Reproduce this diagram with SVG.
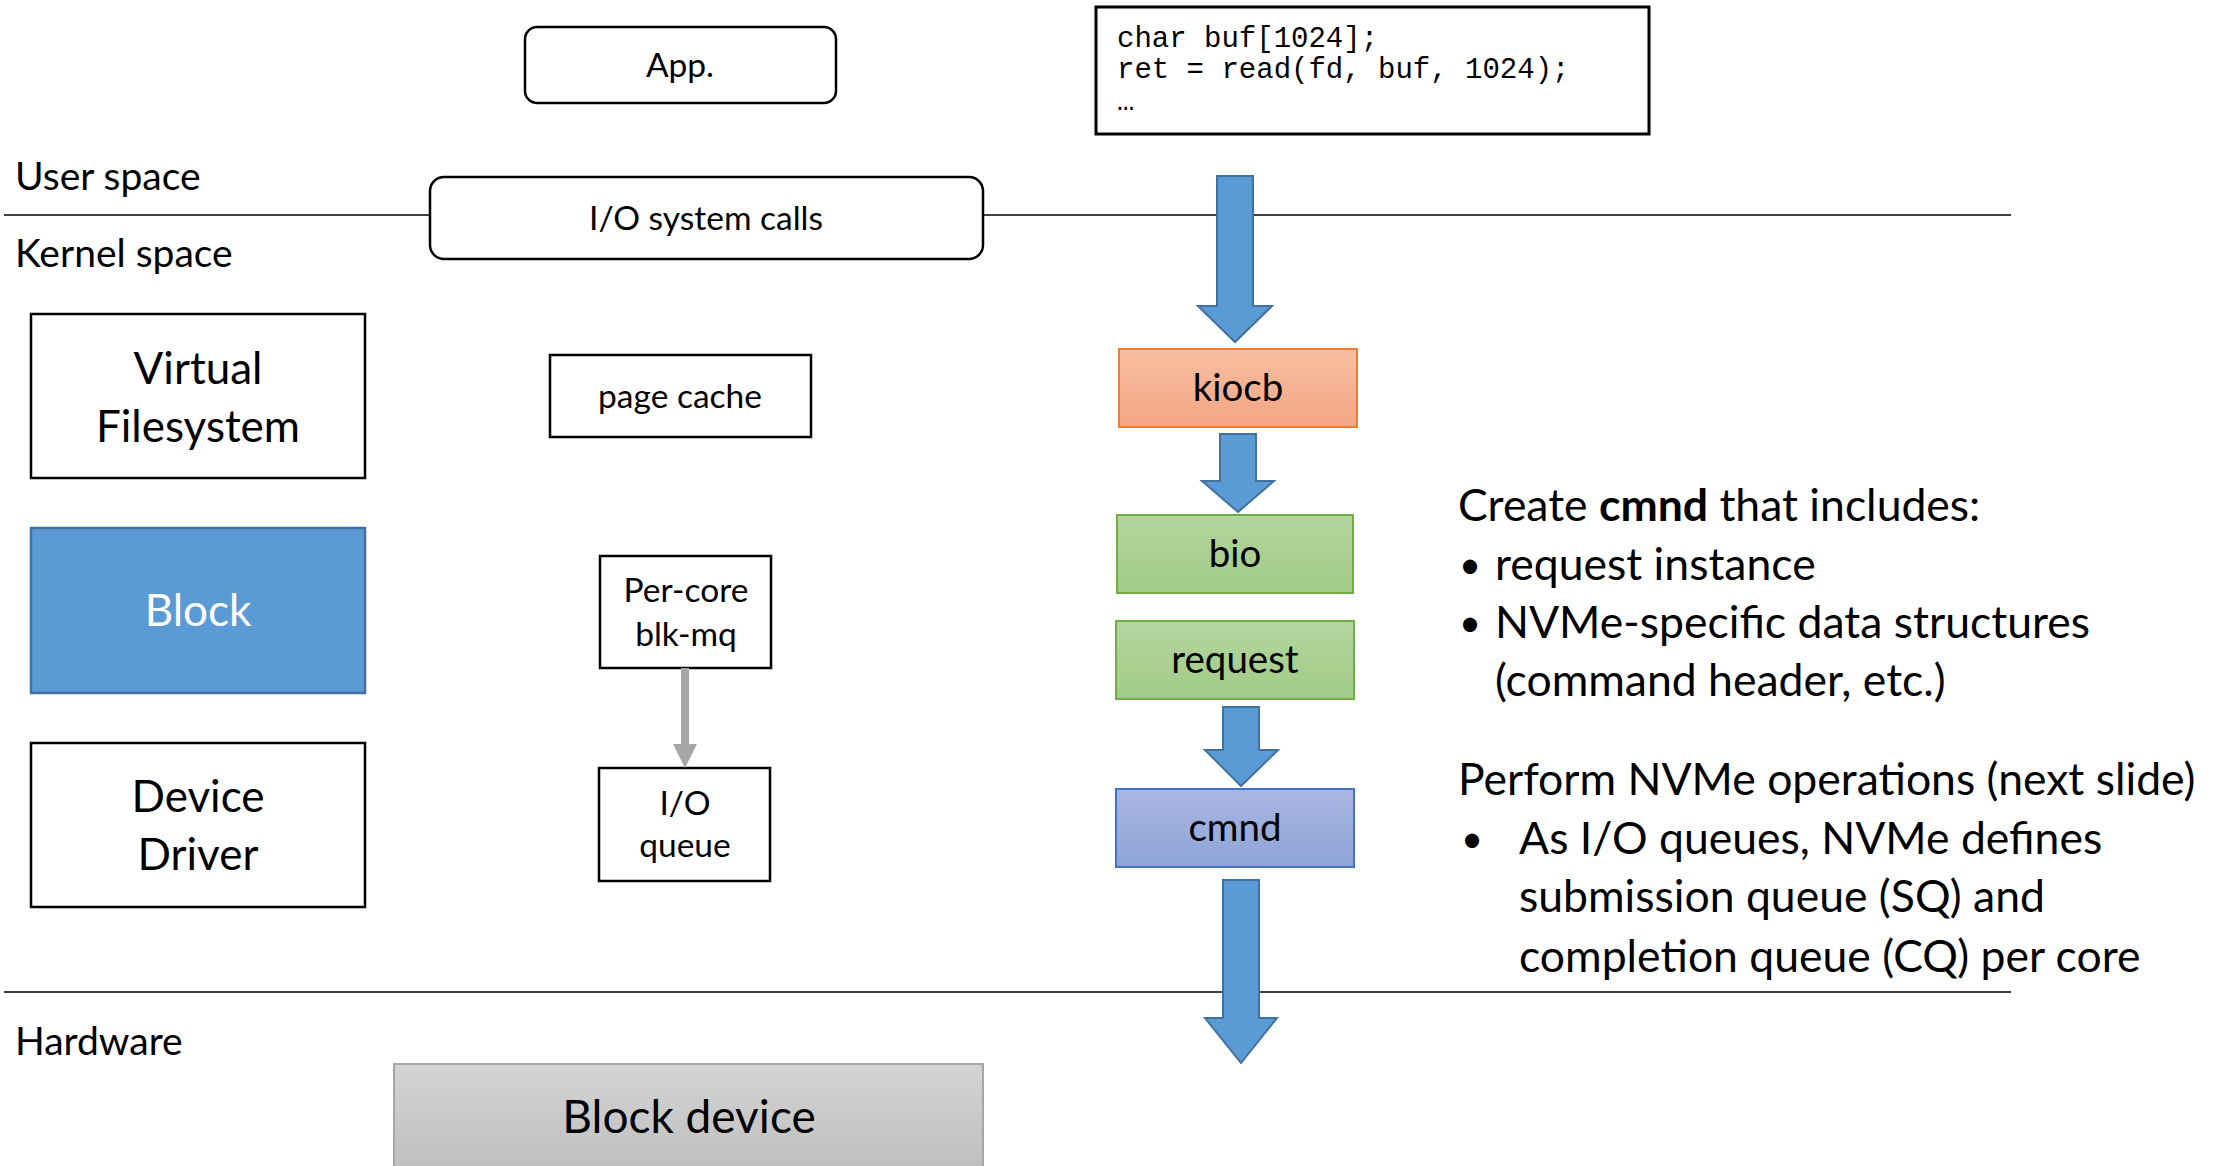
<svg xmlns="http://www.w3.org/2000/svg" width="2218" height="1166" viewBox="0 0 2218 1166">
<defs>
<linearGradient id="gOrange" x1="0" y1="0" x2="0" y2="1"><stop offset="0" stop-color="#F7BEA2"/><stop offset="1" stop-color="#F4A583"/></linearGradient>
<linearGradient id="gGreen" x1="0" y1="0" x2="0" y2="1"><stop offset="0" stop-color="#B4D5A0"/><stop offset="1" stop-color="#A1CB86"/></linearGradient>
<linearGradient id="gBlue" x1="0" y1="0" x2="0" y2="1"><stop offset="0" stop-color="#A9B6E0"/><stop offset="1" stop-color="#8EA4D8"/></linearGradient>
<linearGradient id="gGray" x1="0" y1="0" x2="0" y2="1"><stop offset="0" stop-color="#D3D3D3"/><stop offset="1" stop-color="#BEBEBE"/></linearGradient>
</defs>
<style>
text{font-family:Lato,"Liberation Sans",sans-serif;fill:#000}
.c{text-anchor:middle}
.box{fill:#fff;stroke:#000;stroke-width:2.5}
.lbl{font-size:39px}
.sm{font-size:33.5px}
.big{font-size:44px}
.mid{font-size:38.5px}
.rt{font-size:44.5px}
.bul{font-size:38px}
.code{font-family:"Liberation Mono",monospace;font-size:29px}
.sep{stroke:#404040;stroke-width:2}
.barrow{fill:#5B9BD5;stroke:#41719C;stroke-width:2}
</style>
<rect width="2218" height="1166" fill="#fff"/>
<g id="separators">
<line class="sep" x1="4" y1="215" x2="2011" y2="215"/>
<line class="sep" x1="4" y1="992" x2="2011" y2="992"/>
</g>
<g id="labels">
<text class="lbl" x="15" y="190">User space</text>
<text class="lbl" x="15" y="267">Kernel space</text>
<text class="lbl" x="15" y="1055">Hardware</text>
</g>
<g id="app"><rect class="box" x="525" y="27" width="311" height="76" rx="12"/><text class="sm c" x="680" y="77">App.</text></g>
<g id="code"><rect x="1096" y="7" width="553" height="127" fill="#fff" stroke="#000" stroke-width="3"/>
<text class="code" x="1117" y="47">char buf[1024];</text>
<text class="code" x="1117" y="78">ret = read(fd, buf, 1024);</text>
<text class="code" x="1117" y="110">…</text></g>
<g id="syscalls"><rect class="box" x="430" y="177" width="553" height="82" rx="14"/><text class="sm c" x="706" y="230">I/O system calls</text></g>
<g id="vfs"><rect class="box" x="31" y="314" width="334" height="164"/><text class="big c" x="198" y="384">Virtual</text><text class="big c" x="198" y="442">Filesystem</text></g>
<g id="block"><rect x="31" y="528" width="334" height="165" fill="#5B9BD5" stroke="#41719C" stroke-width="2.5"/><text class="big c" x="198" y="626" style="fill:#fff">Block</text></g>
<g id="driver"><rect class="box" x="31" y="743" width="334" height="164"/><text class="big c" x="198" y="812">Device</text><text class="big c" x="198" y="870">Driver</text></g>
<g id="pagecache"><rect class="box" x="550" y="355" width="261" height="82"/><text class="sm c" x="680" y="408">page cache</text></g>
<g id="blkmq"><rect class="box" x="600" y="556" width="171" height="112"/><text class="sm c" x="686" y="602">Per-core</text><text class="sm c" x="686" y="646">blk-mq</text></g>
<g id="ioqueue"><rect class="box" x="599" y="768" width="171" height="113"/><text class="sm c" x="685" y="815">I/O</text><text class="sm c" x="685" y="857">queue</text></g>
<g id="blockdevice"><rect x="394" y="1064" width="589" height="115" fill="url(#gGray)" stroke="#A6A6A6" stroke-width="2"/><text class="c" x="689" y="1133" style="font-size:46px">Block device</text></g>
<g id="kiocb"><rect x="1119" y="349" width="238" height="78" fill="url(#gOrange)" stroke="#ED7D31" stroke-width="2"/><text class="mid c" x="1238" y="401">kiocb</text></g>
<g id="bio"><rect x="1117" y="515" width="236" height="78" fill="url(#gGreen)" stroke="#70AD47" stroke-width="2"/><text class="mid c" x="1235" y="567">bio</text></g>
<g id="request"><rect x="1116" y="621" width="238" height="78" fill="url(#gGreen)" stroke="#70AD47" stroke-width="2"/><text class="mid c" x="1235" y="673">request</text></g>
<g id="cmnd"><rect x="1116" y="789" width="238" height="78" fill="url(#gBlue)" stroke="#4472C4" stroke-width="2"/><text class="mid c" x="1235" y="841">cmnd</text></g>
<g id="connectors">
<polygon class="barrow" points="1217,176 1253,176 1253,306 1272,306 1235,342 1198,306 1217,306"/>
<polygon class="barrow" points="1220,434 1256,434 1256,481 1274,481 1238,512 1202,481 1220,481"/>
<polygon class="barrow" points="1223,707 1259,707 1259,750 1278,750 1241,786 1205,750 1223,750"/>
<polygon class="barrow" points="1223,880 1259,880 1259,1018 1277,1018 1241,1063 1205,1018 1223,1018"/>
<line x1="685" y1="668" x2="685" y2="745" stroke="#A6A6A6" stroke-width="8"/>
<polygon points="673,744 697,744 685,768" fill="#A6A6A6"/>
</g>
<g id="notes">
<text class="rt" x="1458" y="521">Create <tspan font-weight="bold">cmnd</tspan> that includes:</text>
<text class="bul" x="1459" y="578">•</text><text class="rt" x="1495" y="580">request instance</text>
<text class="bul" x="1459" y="636">•</text><text class="rt" x="1495" y="638">NVMe-specific data structures</text>
<text class="rt" x="1495" y="696">(command header, etc.)</text>
<text class="rt" x="1458" y="795">Perform NVMe operations (next slide)</text>
<text class="bul" x="1461" y="852">•</text><text class="rt" x="1519" y="854">As I/O queues, NVMe defines</text>
<text class="rt" x="1519" y="912">submission queue (SQ) and</text>
<text class="rt" x="1519" y="972">completion queue (CQ) per core</text>
</g>
</svg>
